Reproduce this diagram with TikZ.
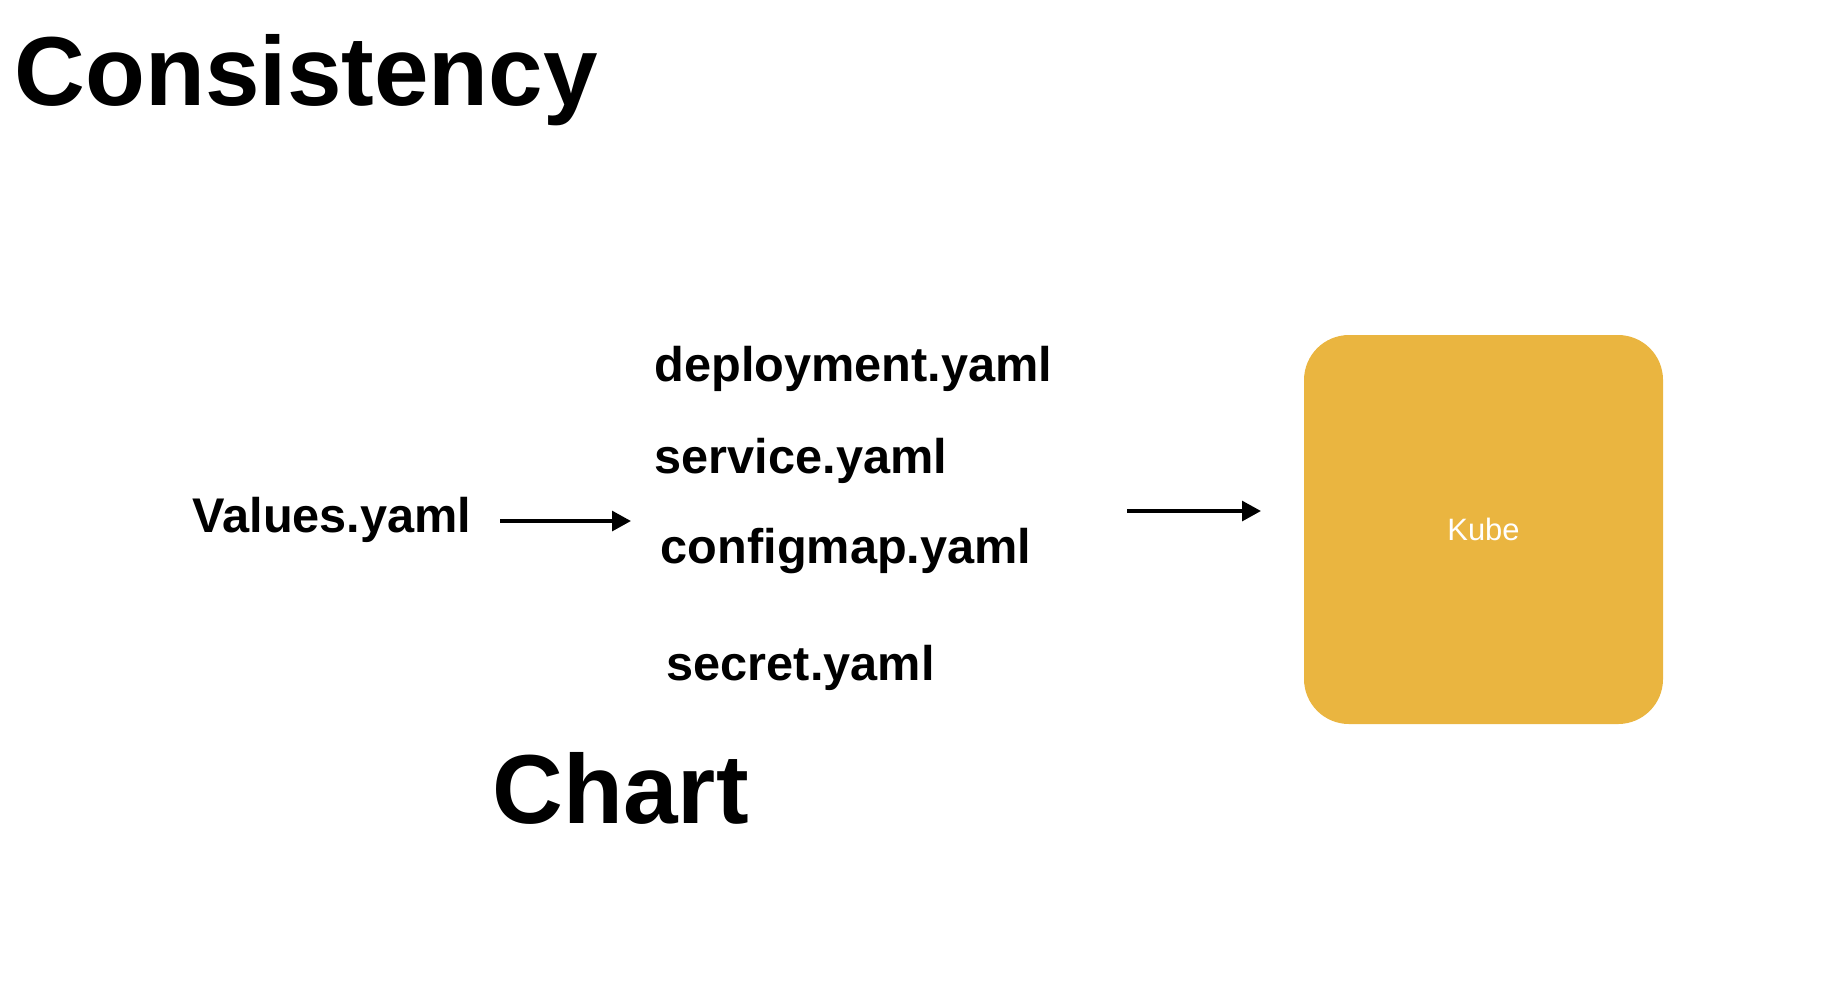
\documentclass[tikz,border=0pt]{standalone}
\usepackage{fontspec}
\setmainfont{Liberation Sans}
\usepackage{xcolor}
\usepackage{tikz}
\usetikzlibrary{arrows.meta}

\definecolor{kubeyellow}{HTML}{EAB540}

\begin{document}
\begin{tikzpicture}[
        title/.style={anchor=base west, inner sep=0, font=\fontsize{27.9}{32}\selectfont\bfseries},
        file/.style={anchor=base west, inner sep=0, font=\fontsize{13.85}{16}\selectfont\bfseries},
        flow/.style={line width=1.1pt, -{Triangle[length=5.4pt, width=5.6pt]}}
    ]
        \useasboundingbox (0, 0) rectangle (18.22, -9.86);

        % Headings
        \node [title] (consistency) at (0.14, -1.05) {Consistency};
        \node [title] (chart) at (4.92, -8.23) {Chart};

        % Values and chart files
        \node [file] (values) at (1.92, -5.32) {Values.yaml};
        \node [file] (deployment) at (6.54, -3.81) {deployment.yaml};
        \node [file] (service) at (6.54, -4.73) {service.yaml};
        \node [file] (configmap) at (6.60, -5.63) {configmap.yaml};
        \node [file] (secret) at (6.66, -6.80) {secret.yaml};

        % Cluster
        \node [fill=kubeyellow, rounded corners=0.45cm, minimum width=3.59cm, minimum height=3.89cm,
               text=white, font=\fontsize{8.8}{10}\selectfont] (kube) at (14.835, -5.295) {Kube};

        % Arrows
        \coordinate (valuesout) at (5.00, -5.21);
        \coordinate (filesin) at (6.31, -5.21);
        \coordinate (filesout) at (11.27, -5.11);
        \coordinate (kubein) at (12.61, -5.11);
        \draw [flow] (valuesout) -- (filesin);
        \draw [flow] (filesout) -- (kubein);
    \end{tikzpicture}
\end{document}
